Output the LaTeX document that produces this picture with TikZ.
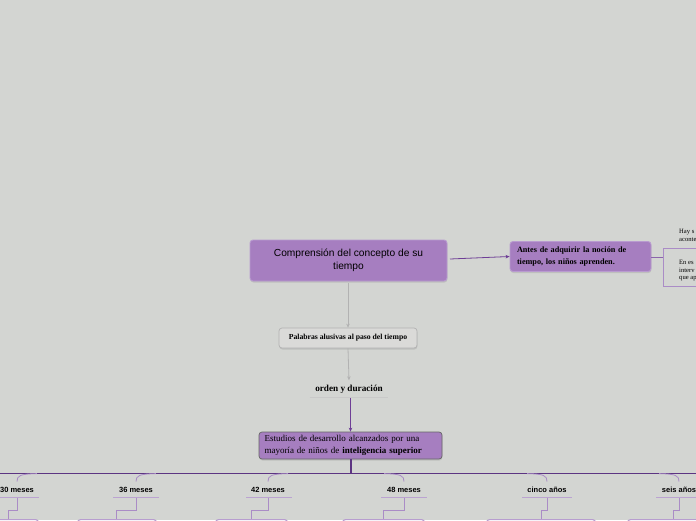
\documentclass[tikz,border=0pt]{standalone}
\usepackage{fontspec}
\setmainfont{Liberation Serif}
\setsansfont{Liberation Sans}
\usetikzlibrary{arrows.meta,shadows}
\definecolor{bg}{RGB}{211,213,210}
\definecolor{nodepurple}{RGB}{166,126,192}
\definecolor{nodeborder}{RGB}{185,155,208}
\definecolor{linkpurple}{RGB}{110,62,150}
\definecolor{darkline}{RGB}{92,52,130}
\definecolor{softpurple}{RGB}{170,140,198}
\definecolor{graybox}{RGB}{218,218,216}
\definecolor{grayline}{RGB}{178,178,178}
\begin{document}
\begin{tikzpicture}[x=1pt,y=-1pt,
  pbox/.style={draw=nodeborder, line width=0.9pt, fill=nodepurple, rounded corners=3pt, inner sep=0pt,
     drop shadow={opacity=0.25, shadow xshift=0.4pt, shadow yshift=-1.5pt}},
  gbox/.style={draw=grayline, line width=0.7pt, fill=graybox, rounded corners=3pt, inner sep=0pt,
     drop shadow={opacity=0.25, shadow xshift=0.4pt, shadow yshift=-1.5pt}},
  agelabel/.style={font=\sffamily\bfseries\fontsize{7.5}{9}\selectfont, inner sep=0pt},
  tiny/.style={font=\fontsize{6.6}{8}\selectfont, anchor=west, inner sep=0pt},
  soft/.style={draw=softpurple, line width=0.8pt},
  arr/.style={-{Stealth[length=4pt,width=3.5pt]}}
]
\useasboundingbox (0,0) rectangle (696,520);
\fill[bg] (0,0) rectangle (696,520);
\clip (0,0) rectangle (696,520);

% main node
\node[pbox, minimum width=197pt, minimum height=41pt, align=center,
      font=\sffamily\fontsize{10.2}{13}\selectfont] (main) at (348.5,260.5)
      {Comprensión del concepto de su\\tiempo};

% right node
\node[pbox, minimum width=141pt, minimum height=30pt, text width=127pt, align=left,
      font=\bfseries\fontsize{8.2}{11.5}\selectfont] (ant) at (580.5,256.5)
      {Antes de adquirir la noción de tiempo, los niños aprenden.};
\coordinate (mr) at (450,259);
\draw[linkpurple, line width=0.8pt, arr] (mr) -- (ant.west);

% bracket
\coordinate (br) at (663,257);
\coordinate (brt) at (663,248);
\coordinate (brb) at (663,286);
\coordinate (brtr) at (700,248);
\coordinate (brbr) at (700,286);
\draw[draw=linkpurple!80, line width=0.7pt] (ant.east |- br) -- (br);
\draw[soft] (brtr) -- (brt) -- (brb) -- (brbr);
\node[tiny] (t1) at (679,232) {Hay s};
\node[tiny] (t2) at (679,240) {aconte};
\node[tiny] (t3) at (679,262) {En es};
\node[tiny] (t4) at (679,270) {interv};
\node[tiny] (t5) at (679,279) {que ap};

% Palabras
\node[gbox, minimum width=138pt, minimum height=20pt,
      font=\bfseries\fontsize{7.7}{9}\selectfont] (pal) at (348,338)
      {Palabras alusivas al paso del tiempo};
\draw[grayline, line width=0.8pt, arr] (main.south -| pal.north) ++(0,2) coordinate (ms) (ms) -- (pal.north);

% orden y duracion
\node[font=\bfseries\fontsize{9.2}{11}\selectfont, inner sep=0pt, minimum width=78pt, minimum height=17pt] (ord) at (349,389)
      {orden y duración};
\draw[grayline!70, line width=0.6pt] (ord.south west) -- (ord.south east);
\draw[grayline, line width=0.8pt, arr] (pal.south) -- (ord.north);

% Estudios
\node[pbox, draw=gray!80!black, line width=0.7pt, minimum width=183pt, minimum height=27pt, text width=172pt, align=left,
      font=\fontsize{9}{11.5}\selectfont] (est) at (350.5,445.5)
      {Estudios de desarrollo alcanzados por una mayoría de niños de \textbf{inteligencia superior}};
\draw[linkpurple, line width=0.9pt, arr] (ord.south -| est.north) -- (est.north);

% main horizontal
\coordinate (hl) at (-5,473.3);
\coordinate (hr) at (701,473.3);
\coordinate (hj) at (351,473.3);
\draw[darkline, line width=1.1pt] (hl) -- (hr);
\draw[darkline, line width=1.1pt] (est.south -| hj) -- (hj);

% age labels: x, underline left, underline right, box left, box right, joint x
\foreach \x/\ul/\ur/\bl/\brr/\jx/\txt/\dir [count=\i] in
  {17/-5/39/-20/38/8/30 meses/1,
   136/113/159/77/156/116/36 meses/1,
   268/246/292/215/287/251/42 meses/1,
   404/381/427/342/424/383/48 meses/-1,
   547/522/572/486/595/541/cinco años/-1,
   679/656/705/627/760/673/seis años/-1}{
  \node[agelabel] (lab\i) at (\x,489.5) {\txt};
  \coordinate (ulL\i) at (\ul,497.5);
  \coordinate (ulR\i) at (\ur,497.5);
  \draw[softpurple!80, line width=0.9pt] (ulL\i) -- (ulR\i);
  \coordinate (ct\i) at (\x,481.5);
  \coordinate (cj\i) at (\x+\dir*20,473.6);
  \draw[soft] (ct\i) .. controls (\x,475.5) and (\x+\dir*3,474) .. (cj\i);
  \coordinate (d1\i) at (\x,510);
  \coordinate (d2\i) at (\jx,510);
  \node[draw=softpurple!85, line width=1.1pt, rounded corners=3pt, minimum width=\brr pt-\bl pt, minimum height=20pt, inner sep=0pt, anchor=north west] (box\i) at (\bl,519) {};
  \draw[soft] (\x,497.5) -- (d1\i) -- (d2\i) -- (d2\i |- box\i.north);
}
\end{tikzpicture}
\end{document}
